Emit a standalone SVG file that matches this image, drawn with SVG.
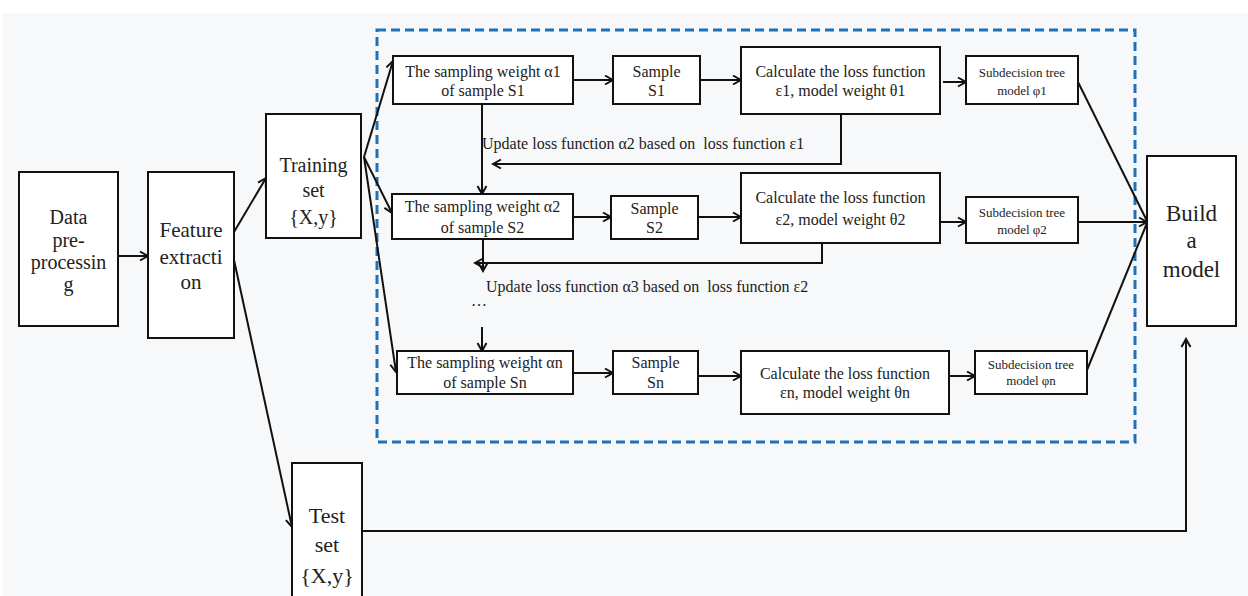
<svg xmlns="http://www.w3.org/2000/svg" width="1248" height="596" viewBox="0 0 1248 596">
<defs>
<marker id="arr" markerUnits="userSpaceOnUse" markerWidth="12" markerHeight="12" refX="10" refY="6" orient="auto">
<path d="M2,1.5 L10,6 L2,10.5" fill="none" stroke="#111" stroke-width="2"/>
</marker>
<style>
.box{fill:#fff;stroke:#111;stroke-width:2}
.t{font-family:'Liberation Serif',Tinos,'Times New Roman','DejaVu Serif',serif;fill:#222;text-anchor:middle}
.s16{font-size:16px}
.s13{font-size:13px}
.c{fill:none;stroke:#111;stroke-width:2}
.a{marker-end:url(#arr)}
.lbl{font-family:'Liberation Serif',Tinos,'Times New Roman','DejaVu Serif',serif;font-size:16px;fill:#222;white-space:pre}
</style>
</defs>
<rect x="0" y="0" width="1248" height="596" fill="#ffffff"/>
<rect x="2" y="13" width="1246" height="583" fill="#f7f8fa"/>
<rect x="377" y="30" width="758" height="412" fill="none" stroke="#1f72b8" stroke-width="3" stroke-dasharray="9,5"/>

<g id="connectors">
<line class="c a" x1="118" y1="256" x2="148" y2="256"/>
<line class="c a" x1="234" y1="232" x2="266" y2="178"/>
<line class="c a" x1="234" y1="260" x2="292" y2="527"/>
<line class="c a" x1="364" y1="157" x2="393" y2="61"/>
<line class="c a" x1="364" y1="157" x2="392" y2="213"/>
<line class="c a" x1="364" y1="157" x2="396" y2="372"/>
<line class="c a" x1="573" y1="80" x2="613" y2="80"/>
<line class="c a" x1="700" y1="80" x2="741" y2="80"/>
<line class="c a" x1="943" y1="82" x2="966" y2="82"/>
<line class="c" x1="1078" y1="82" x2="1147" y2="221"/>
<line class="c a" x1="482" y1="104" x2="482" y2="194"/>
<polyline class="c a" points="841,114 841,164 493,164"/>
<line class="c a" x1="573" y1="217" x2="611" y2="217"/>
<line class="c a" x1="698" y1="217" x2="741" y2="217"/>
<line class="c a" x1="938" y1="222" x2="966" y2="222"/>
<line class="c a" x1="1078" y1="222" x2="1147" y2="222"/>
<line class="c a" x1="483" y1="239" x2="483" y2="271"/>
<polyline class="c a" points="822,243 822,263 475,263"/>
<line class="c a" x1="482" y1="327" x2="482" y2="351"/>
<line class="c a" x1="573" y1="373" x2="613" y2="373"/>
<line class="c a" x1="698" y1="376" x2="741" y2="376"/>
<line class="c a" x1="949" y1="376" x2="975" y2="376"/>
<line class="c" x1="1087" y1="370" x2="1147" y2="223"/>
<polyline class="c a" points="362,531 1186,531 1186,339"/>
<text class="lbl" x="482" y="149">Update loss function α2 based on  loss function ε1</text>
<text class="lbl" x="486" y="292">Update loss function α3 based on  loss function ε2</text>
<text class="lbl" x="471" y="306">…</text>
</g>

<g id="data">
<rect class="box" x="19" y="172" width="99" height="154"/>
<text class="t" font-size="20" x="68.5" y="224">Data</text>
<text class="t" font-size="20" x="68.5" y="247">pre-</text>
<text class="t" font-size="20" x="68.5" y="269">processin</text>
<text class="t" font-size="20" x="68.5" y="291">g</text>
</g>
<g id="feature">
<rect class="box" x="148" y="172" width="86" height="166"/>
<text class="t" font-size="21" x="191" y="237">Feature</text>
<text class="t" font-size="21" x="191" y="264">extracti</text>
<text class="t" font-size="21" x="191" y="289">on</text>
</g>
<g id="training">
<rect class="box" x="266" y="114" width="95" height="124"/>
<text class="t" font-size="20" x="313.5" y="172">Training</text>
<text class="t" font-size="20" x="313.5" y="197">set</text>
<text class="t" font-size="20" x="313.5" y="224">{X,y}</text>
</g>
<g id="test">
<rect class="box" x="292" y="463" width="70" height="140"/>
<text class="t" font-size="22" x="327" y="523">Test</text>
<text class="t" font-size="22" x="327" y="552">set</text>
<text class="t" font-size="22" x="327" y="583">{X,y}</text>
</g>
<g id="build">
<rect class="box" x="1147" y="156" width="89" height="170"/>
<text class="t" font-size="23" x="1191.5" y="221">Build</text>
<text class="t" font-size="23" x="1191.5" y="248">a</text>
<text class="t" font-size="23" x="1191.5" y="277">model</text>
</g>

<g id="alpha1">
<rect class="box" x="393" y="56" width="180" height="48"/>
<text class="t s16" x="483" y="77">The sampling weight α1</text>
<text class="t s16" x="483" y="96">of sample S1</text>
</g>
<g id="sample1">
<rect class="box" x="613" y="56" width="87" height="48"/>
<text class="t s16" x="656.5" y="77">Sample</text>
<text class="t s16" x="656.5" y="96">S1</text>
</g>
<g id="calc1">
<rect class="box" x="741" y="47" width="199" height="67"/>
<text class="t s16" x="840.5" y="77">Calculate the loss function</text>
<text class="t s16" x="840.5" y="96">ε1, model weight θ1</text>
</g>
<g id="sub1">
<rect class="box" x="966" y="56" width="112" height="48"/>
<text class="t s13" x="1022" y="77">Subdecision tree</text>
<text class="t s13" x="1022" y="95">model φ1</text>
</g>

<g id="alpha2">
<rect class="box" x="392" y="194" width="181" height="45"/>
<text class="t s16" x="482.5" y="212">The sampling weight α2</text>
<text class="t s16" x="482.5" y="233">of sample S2</text>
</g>
<g id="sample2">
<rect class="box" x="611" y="196" width="87" height="43"/>
<text class="t s16" x="654.5" y="214">Sample</text>
<text class="t s16" x="654.5" y="233">S2</text>
</g>
<g id="calc2">
<rect class="box" x="741" y="173" width="199" height="70"/>
<text class="t s16" x="840.5" y="203">Calculate the loss function</text>
<text class="t s16" x="840.5" y="225">ε2, model weight θ2</text>
</g>
<g id="sub2">
<rect class="box" x="966" y="197" width="112" height="46"/>
<text class="t s13" x="1022" y="217">Subdecision tree</text>
<text class="t s13" x="1022" y="234">model φ2</text>
</g>

<g id="alphan">
<rect class="box" x="397" y="351" width="176" height="43"/>
<text class="t s16" x="485" y="368">The sampling weight αn</text>
<text class="t s16" x="485" y="388">of sample Sn</text>
</g>
<g id="samplen">
<rect class="box" x="613" y="351" width="85" height="43"/>
<text class="t s16" x="655.5" y="368">Sample</text>
<text class="t s16" x="655.5" y="388">Sn</text>
</g>
<g id="calcn">
<rect class="box" x="741" y="351" width="208" height="63"/>
<text class="t s16" x="845" y="379">Calculate the loss function</text>
<text class="t s16" x="845" y="398">εn, model weight θn</text>
</g>
<g id="subn">
<rect class="box" x="975" y="351" width="112" height="43"/>
<text class="t s13" x="1031" y="369">Subdecision tree</text>
<text class="t s13" x="1031" y="385">model φn</text>
</g>
</svg>
